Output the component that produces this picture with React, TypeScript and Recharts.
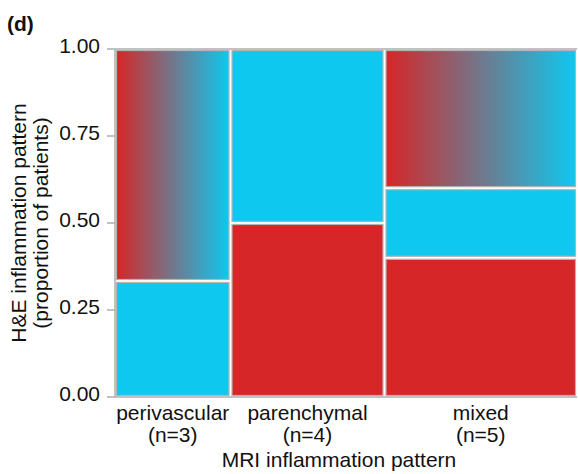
import { ComposedChart, XAxis, YAxis, ReferenceArea, ReferenceLine } from "recharts";

// MRI pattern (columns) vs H&E pattern (stacked cells), patient counts
const categories = ["perivascular", "parenchymal", "mixed"];
const redCounts = [0, 2, 2];
const blueCounts = [1, 2, 1];
const mixedCounts = [2, 0, 2];
const yTicks = [0, 0.25, 0.5, 0.75, 1];

const RED = "#d62628";
const BLUE = "#0ec8f0";
const EDGE = "#b4b4b4";
const AXIS = "#aeaeae";
const FONT = "'Liberation Sans', Arial, Helvetica, sans-serif";

const totals = categories.map((_, i) => redCounts[i] + blueCounts[i] + mixedCounts[i]);
const starts = totals.map((_, i) => totals.slice(0, i).reduce((a, b) => a + b, 0));
const grandTotal = totals.reduce((a, b) => a + b, 0);
const centers = totals.map((n, i) => starts[i] + n / 2);
const data = categories.map((name, i) => ({ name, mid: centers[i] }));

type Cell = { x1: number; x2: number; y1: number; y2: number; fill: string };
const cells: Cell[] = [];
categories.forEach((_, i) => {
    const n = totals[i];
    const parts = [
        { v: redCounts[i], fill: RED },
        { v: blueCounts[i], fill: BLUE },
        { v: mixedCounts[i], fill: "url(#mixGrad)" },
    ];
    let acc = 0;
    parts.forEach((p) => {
        if (p.v > 0) {
            cells.push({ x1: starts[i], x2: starts[i] + n, y1: acc / n, y2: (acc + p.v) / n, fill: p.fill });
        }
        acc += p.v;
    });
});

const cellShape = (fill: string) => (props: any) => (
    <rect
        x={props.x + 1.5}
        y={props.y + 1.5}
        width={Math.max(0, props.width - 3)}
        height={Math.max(0, props.height - 3)}
        fill={fill}
        stroke={EDGE}
        strokeWidth={1.2}
    />
);

const XTick = ({ x, y, payload }: any) => {
    const i = centers.findIndex((c) => Math.abs(c - payload.value) < 1e-6);
    if (i < 0) return null;
    return (
        <g>
            <text x={x} y={y + 23} textAnchor="middle" fontSize={21} fill="#111" fontFamily={FONT}>{categories[i]}</text>
            <text x={x} y={y + 45} textAnchor="middle" fontSize={21} fill="#111" fontFamily={FONT}>{`(n=${totals[i]})`}</text>
        </g>
    );
};

const YTitle = () => (
    <g fontFamily={FONT} fontSize={21} fill="#111">
        <text x={7} y={31} fontWeight="bold" textAnchor="start">(d)</text>
        <text x={26} y={223} transform="rotate(-90, 26, 223)" textAnchor="middle">H&amp;E inflammation pattern</text>
        <text x={48} y={223} transform="rotate(-90, 48, 223)" textAnchor="middle">(proportion of patients)</text>
    </g>
);

const XTitle = (props: any) => {
    const vb = props.viewBox || { x: 115, width: 462 };
    return (
        <text x={vb.x + vb.width / 2 - 7} y={467} textAnchor="middle" fontSize={21} fill="#111" fontFamily={FONT}>
            MRI inflammation pattern
        </text>
    );
};

export default function App() {
    return (
        <div style={{ width: 578, height: 474, background: "#fff" }}>
            <style>{`body{margin:0}`}</style>
            <ComposedChart width={578} height={474} data={data} margin={{ top: 49, right: 1, bottom: 0, left: 0 }}>
                <defs>
                    <linearGradient id="mixGrad" x1="0" y1="0" x2="1" y2="0">
                        <stop offset="0%" stopColor={RED} />
                        <stop offset="100%" stopColor={BLUE} />
                    </linearGradient>
                </defs>
                <XAxis
                    dataKey="mid"
                    type="number"
                    domain={[0, grandTotal]}
                    allowDataOverflow
                    ticks={centers}
                    tick={<XTick />}
                    tickLine={false}
                    tickSize={0}
                    tickMargin={0}
                    height={77}
                    axisLine={{ stroke: AXIS, strokeWidth: 1.5 }}
                    label={<XTitle />}
                />
                <YAxis
                    type="number"
                    domain={[0, 1]}
                    allowDataOverflow
                    ticks={yTicks}
                    width={115}
                    tickSize={8}
                    tickMargin={7}
                    tickFormatter={(v: number) => v.toFixed(2)}
                    tick={{ fontSize: 21, fill: "#111", fontFamily: FONT, dy: -3 }}
                    tickLine={{ stroke: AXIS, strokeWidth: 1.5 }}
                    axisLine={{ stroke: AXIS, strokeWidth: 1.5 }}
                    label={<YTitle />}
                />
                <ReferenceLine y={1} stroke={AXIS} strokeWidth={1.5} />
                {cells.map((c, k) => (
                    <ReferenceArea key={k} x1={c.x1} x2={c.x2} y1={c.y1} y2={c.y2} shape={cellShape(c.fill)} />
                ))}
            </ComposedChart>
        </div>
    );
}
